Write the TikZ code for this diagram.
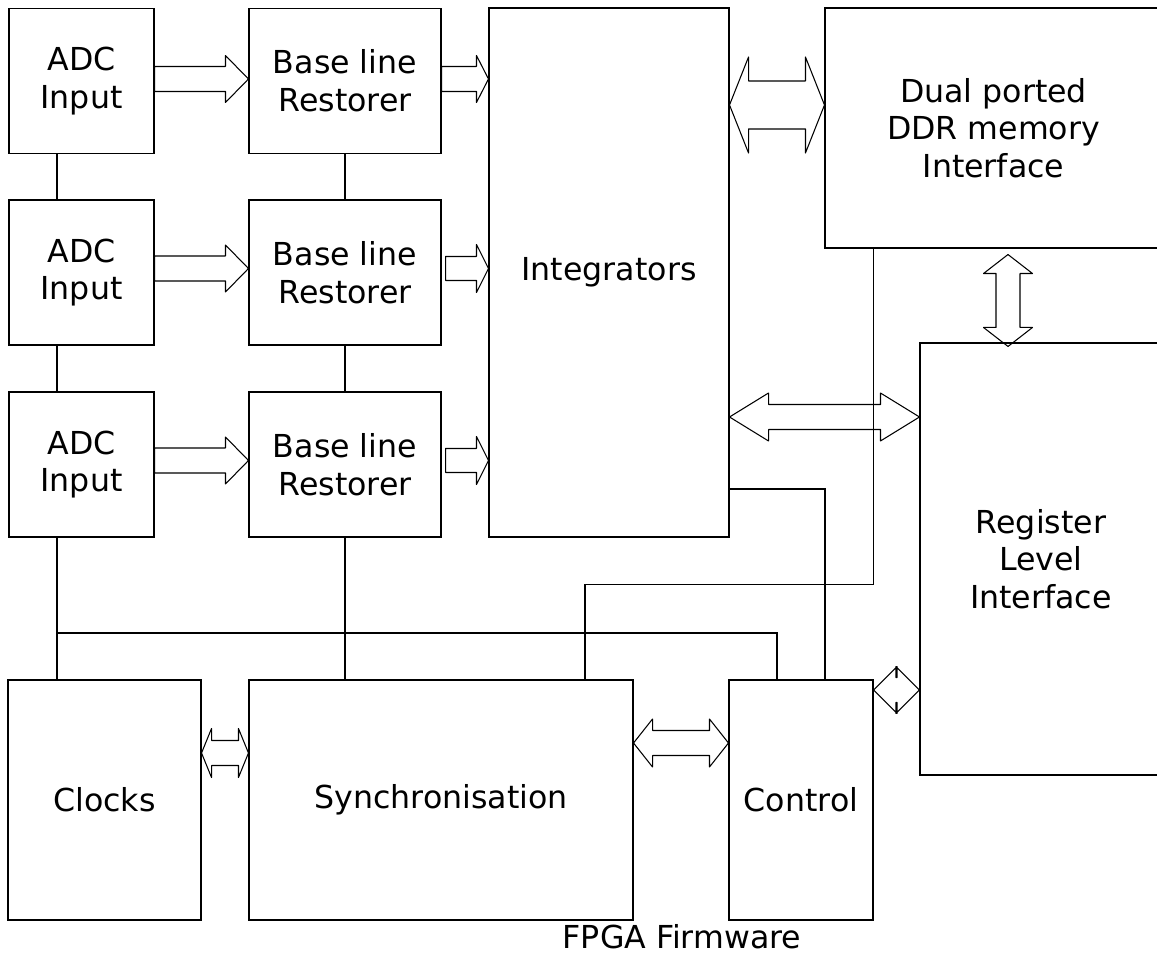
\documentclass[tikz,border=0pt]{standalone}
\usepackage{fontspec}
\setmainfont{DejaVu Sans}
\usetikzlibrary{calc}

% hollow bus arrows (horizontal one-way, horizontal two-way, vertical two-way)
\newcommand{\busarrow}[5]{%
  \draw[bus] let \p1=(#1), \p2=(#2) in
    (\x1,\y1+#3) -- (\x2-#5,\y1+#3) -- (\x2-#5,\y1+#4) -- (\x2,\y1)
    -- (\x2-#5,\y1-#4) -- (\x2-#5,\y1-#3) -- (\x1,\y1-#3) -- cycle;}
\newcommand{\dbusarrow}[5]{%
  \draw[bus] let \p1=(#1), \p2=(#2) in
    (\x1,\y1) -- (\x1+#5,\y1+#4) -- (\x1+#5,\y1+#3) -- (\x2-#5,\y1+#3)
    -- (\x2-#5,\y1+#4) -- (\x2,\y1) -- (\x2-#5,\y1-#4) -- (\x2-#5,\y1-#3)
    -- (\x1+#5,\y1-#3) -- (\x1+#5,\y1-#4) -- cycle;}
\newcommand{\vdbusarrow}[5]{%
  \draw[bus] let \p1=(#1), \p2=(#2) in
    (\x1,\y1) -- (\x1+#4,\y1-#5) -- (\x1+#3,\y1-#5) -- (\x1+#3,\y2+#5)
    -- (\x1+#4,\y2+#5) -- (\x1,\y2) -- (\x1-#4,\y2+#5) -- (\x1-#3,\y2+#5)
    -- (\x1-#3,\y1-#5) -- (\x1-#4,\y1-#5) -- cycle;}

\begin{document}
\begin{tikzpicture}[
  block/.style={
    draw,
    line width=0.6pt,
    align=center,
    inner sep=0pt
  },
  wire/.style={line width=0.6pt},
  bus/.style={line width=0.6pt, line join=round},
  font=\fontsize{18}{21.5}\selectfont
]
\useasboundingbox (0,0) rectangle (23.14,-19.12);

\node[block, minimum width=2.9cm, minimum height=2.9cm] (adcA) at (1.63,-1.62) {ADC\\Input};
\node[block, minimum width=2.9cm, minimum height=2.9cm] (adcB) at (1.63,-5.45) {ADC\\Input};
\node[block, minimum width=2.9cm, minimum height=2.9cm] (adcC) at (1.63,-9.29) {ADC\\Input};
\node[block, minimum width=3.84cm, minimum height=2.9cm] (blrA) at (6.9,-1.62) {Base line\\Restorer};
\node[block, minimum width=3.84cm, minimum height=2.9cm] (blrB) at (6.9,-5.45) {Base line\\Restorer};
\node[block, minimum width=3.84cm, minimum height=2.9cm] (blrC) at (6.9,-9.29) {Base line\\Restorer};
\node[block, minimum width=4.8cm, minimum height=10.58cm] (integ) at (12.18,-5.45) {Integrators};
\node[block, minimum width=6.74cm, minimum height=4.8cm] (ddr) at (19.87,-2.56) {Dual ported\\DDR memory\\Interface};
\node[block, minimum width=4.84cm, minimum height=8.64cm] (reg) at (20.82,-11.18) {Register\\Level\\Interface};
\node[block, minimum width=3.86cm, minimum height=4.8cm] (clocks) at (2.09,-16) {Clocks};
\node[block, minimum width=7.68cm, minimum height=4.8cm] (sync) at (8.82,-16) {Synchronisation};
\node[block, minimum width=2.88cm, minimum height=4.8cm] (ctrl) at (16.02,-16) {Control};
\node (title) at (13.64,-18.74) {FPGA Firmware};

\coordinate (adcrail) at (1.14,0);
\coordinate (clkrail) at (0,-12.66);
\coordinate (ddrbus) at (0,-2.1);
\coordinate (regbus) at (0,-8.34);
\coordinate (memport) at (20.16,0);

% plain wires
\draw[wire] (adcA.south -| adcrail) -- (adcB.north -| adcrail);
\draw[wire] (adcB.south -| adcrail) -- (adcC.north -| adcrail);
\draw[wire] (adcC.south -| adcrail) -- (clocks.north -| adcrail);
\draw[wire] (blrA.south) -- (blrB.north);
\draw[wire] (blrB.south) -- (blrC.north);
\draw[wire] (blrC.south) -- (sync.north -| blrC.south);
\draw[wire] (adcrail |- clkrail) -| ([xshift=-0.48cm]ctrl.north);
\draw[wire] (integ.east |- 0,-9.78) -| ([xshift=0.48cm]ctrl.north);
\draw[wire] ([xshift=2.88cm]sync.north) -- ++(0,1.9) -| (ddr.south -| ctrl.east);

% buses
\busarrow{$(adcA.east)+(0,0.04)$}{blrA.west}{0.25cm}{0.47cm}{0.46cm}
\busarrow{$(adcB.east)+(0,0.08)$}{blrB.west}{0.25cm}{0.47cm}{0.46cm}
\busarrow{$(adcC.east)+(0,0.08)$}{blrC.west}{0.25cm}{0.47cm}{0.46cm}
\busarrow{$(blrA.east)+(0,0.04)$}{integ.west}{0.25cm}{0.47cm}{0.24cm}
\busarrow{$(blrB.east)+(0.08,0.08)$}{integ.west}{0.24cm}{0.48cm}{0.24cm}
\busarrow{$(blrC.east)+(0.08,0.08)$}{integ.west}{0.24cm}{0.48cm}{0.24cm}
\dbusarrow{integ.east |- ddrbus}{ddr.west}{0.48cm}{0.96cm}{0.38cm}
\dbusarrow{integ.east |- regbus}{reg.west}{0.25cm}{0.48cm}{0.78cm}
\vdbusarrow{$(ddr.south -| memport)+(0,-0.12)$}{$(reg.north -| memport)+(0,-0.08)$}{0.24cm}{0.49cm}{0.38cm}
\dbusarrow{$(clocks.east)+(0,0.94)$}{sync.west}{0.25cm}{0.49cm}{0.2cm}
\dbusarrow{$(sync.east)+(0,1.14)$}{ctrl.west}{0.25cm}{0.48cm}{0.38cm}
\dbusarrow{$(ctrl.east)+(0,2.2)$}{reg.west}{0.25cm}{0.47cm}{0.47cm}
\end{tikzpicture}
\end{document}
